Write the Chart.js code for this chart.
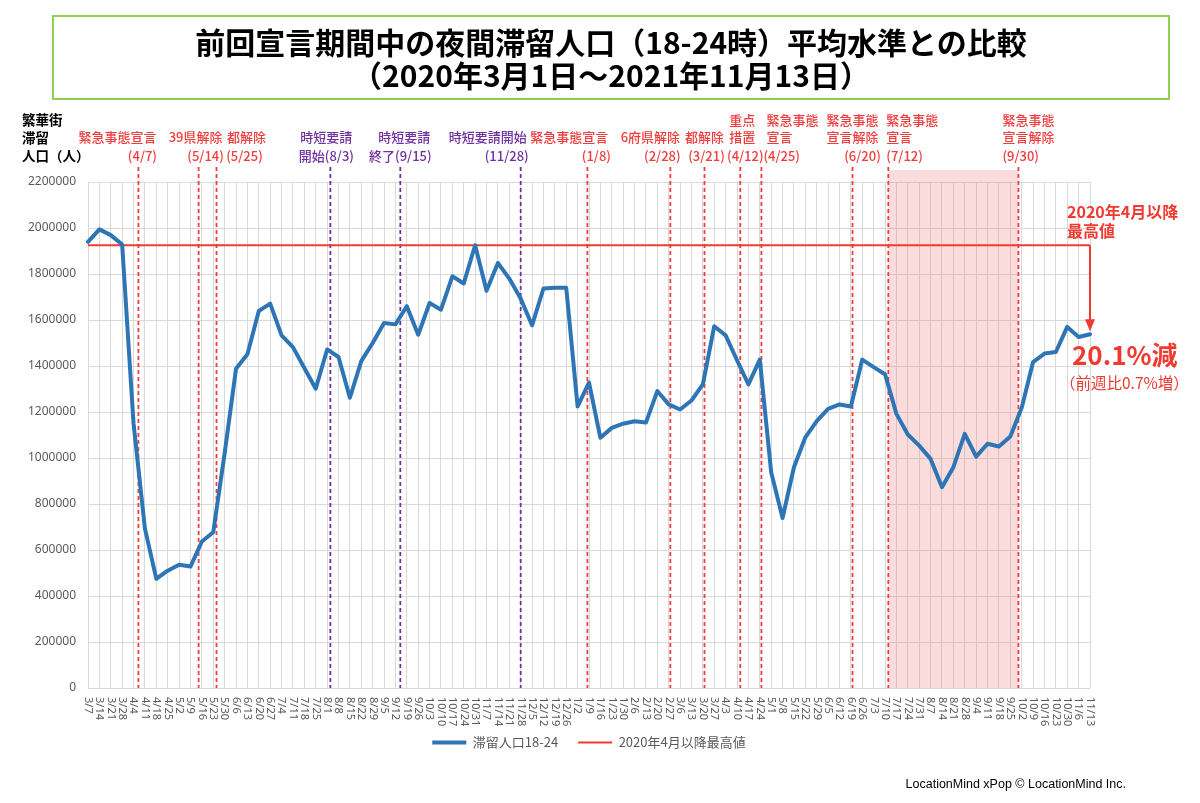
<!DOCTYPE html>
<html lang="ja">
<head>
<meta charset="utf-8">
<title>夜間滞留人口の比較</title>
<script src="https://cdn.jsdelivr.net/npm/chart.js@4.4.1/dist/chart.umd.min.js"></script>
<style>
  html, body { margin: 0; padding: 0; background: #fff; }
  #wrap { position: relative; width: 1200px; height: 803px; }
  canvas { position: absolute; left: 0; top: 0; }
  #title {
    position: absolute; left: 52px; top: 15px; width: 1114px; height: 81px;
    border: 2px solid #92d050;
    display: flex; flex-direction: column; justify-content: center; align-items: center;
    font-family: "Noto Sans CJK JP", sans-serif; font-weight: bold; font-size: 30px; line-height: 33px; color: #000;
  }
  #credit { position: absolute; right: 74px; top: 777px; font: 12.5px "Liberation Sans", Arial, sans-serif; color: #000; }
</style>
</head>
<body>
<div id="wrap">
  <canvas id="chart" width="1200" height="803"></canvas>
  <div id="title">
    <div>前回宣言期間中の夜間滞留人口（18-24時）平均水準との比較</div>
    <div>（2020年3月1日～2021年11月13日）</div>
  </div>
  <div id="credit">LocationMind xPop © LocationMind Inc.</div>
</div>
<script>
// weekly x labels, 2020/3/7 .. 2021/11/13
const weekLabels = [
  '3/7','3/14','3/21','3/28','4/4','4/11','4/18','4/25','5/2','5/9','5/16','5/23','5/30',
  '6/6','6/13','6/20','6/27','7/4','7/11','7/18','7/25','8/1','8/8','8/15','8/22','8/29',
  '9/5','9/12','9/19','9/26','10/3','10/10','10/17','10/24','10/31','11/7','11/14','11/21','11/28',
  '12/5','12/12','12/19','12/26','1/2','1/9','1/16','1/23','1/30','2/6','2/13','2/20','2/27',
  '3/6','3/13','3/20','3/27','4/3','4/10','4/17','4/24','5/1','5/8','5/15','5/22','5/29',
  '6/5','6/12','6/19','6/26','7/3','7/10','7/17','7/24','7/31','8/7','8/14','8/21','8/28',
  '9/4','9/11','9/18','9/25','10/2','10/9','10/16','10/23','10/30','11/6','11/13'
];

// night-time population 18-24 (people)
const stayValues = [
  1940000,1994000,1969000,1928000,1150000,693000,475000,510000,536000,528000,637000,677000,1020000,
  1388000,1451000,1639000,1671000,1533000,1482000,1391000,1301000,1472000,1439000,1262000,1421000,1500000,
  1587000,1581000,1660000,1536000,1674000,1645000,1790000,1759000,1925000,1727000,1848000,1780000,1693000,
  1577000,1737000,1740000,1740000,1224000,1328000,1088000,1131000,1149000,1160000,1154000,1291000,1233000,
  1211000,1250000,1320000,1573000,1533000,1425000,1320000,1428000,938000,739000,960000,1090000,1160000,
  1214000,1233000,1224000,1428000,1395000,1364000,1192000,1102000,1054000,996000,873000,960000,1105000,
  1006000,1062000,1050000,1093000,1218000,1417000,1454000,1461000,1570000,1526000,1538000
];

// highest value since April 2020
const peakSinceApril = 1925000;

// declarations and requests
const eventDates = ['2020-04-07','2020-05-14','2020-05-25','2020-08-03','2020-09-15','2020-11-28','2021-01-08',
  '2021-02-28','2021-03-21','2021-04-12','2021-04-25','2021-06-20','2021-07-12','2021-09-30'];
const eventNames = [['緊急事態宣言'],['39県解除'],['都解除'],['時短要請'],['時短要請'],['時短要請開始'],['緊急事態宣言'],
  ['6府県解除'],['都解除'],['重点','措置'],['緊急事態','宣言'],['緊急事態','宣言解除'],['緊急事態','宣言'],['緊急事態','宣言解除']];
const eventTags = ['(4/7)','(5/14)','(5/25)','開始(8/3)','終了(9/15)','(11/28)','(1/8)',
  '(2/28)','(3/21)','(4/12)','(4/25)','(6/20)','(7/12)','(9/30)'];
const eventKinds = ['red','red','red','purple','purple','purple','red','red','red','red','red','red','red','red'];

// shaded period (7/12 - 9/30)
const shadeFrom = '2021-07-12';
const shadeTo = '2021-09-30';

// label placement next to each line
const labelAlign = ['center','center','center','center','center','center','center','center','center','center','left','center','left','left'];
const labelDx = [-21, -3, 30, -4, 4, -33, -18, -20, 0, 2, 5, 0, -2, -16];
const tagDx = [4, 7, 28, -4, 0, -14, 9, -8, 2, 5, 2, 10, -2, -16];

const yCaption = ['繁華街', '滞留', '人口（人）'];

const RED = '#f03a30';
const PURPLE = '#7030a0';
const colors = { red: '#f23c3c', purple: PURPLE };

// fractional week position of a date on the category axis
const startDay = Date.UTC(2020, 2, 7);
function weekIndex(s) {
  const [y, m, d] = s.split('-').map(Number);
  return (Date.UTC(y, m - 1, d) - startDay) / (7 * 86400000);
}

const bandsAndLines = {
  id: 'bandsAndLines',
  beforeDatasetsDraw(chart) {
    const { ctx, chartArea: area, scales: { x } } = chart;
    ctx.save();
    // shaded period
    const x1 = x.getPixelForValue(weekIndex(shadeFrom));
    const x2 = x.getPixelForValue(weekIndex(shadeTo));
    ctx.fillStyle = 'rgba(240, 130, 130, 0.28)';
    ctx.fillRect(x1, area.top - 12, x2 - x1, area.bottom - area.top + 12);
    // dashed event lines
    ctx.lineWidth = 1.8;
    ctx.setLineDash([4, 3]);
    eventDates.forEach((d, i) => {
      const px = x.getPixelForValue(weekIndex(d));
      ctx.strokeStyle = colors[eventKinds[i]];
      ctx.beginPath();
      ctx.moveTo(px, area.top - 15);
      ctx.lineTo(px, area.bottom);
      ctx.stroke();
    });
    ctx.restore();
  },
  afterDatasetsDraw(chart) {
    const { ctx, chartArea: area, scales: { x, y } } = chart;
    ctx.save();

    // x tick labels, turned clockwise
    ctx.font = '11px "Noto Sans", sans-serif';
    ctx.fillStyle = '#595959';
    ctx.textAlign = 'left';
    ctx.textBaseline = 'middle';
    weekLabels.forEach((lab, i) => {
      ctx.save();
      ctx.translate(x.getPixelForValue(i), area.bottom + 9);
      ctx.rotate(Math.PI / 2);
      ctx.fillText(lab, 0, 0);
      ctx.restore();
    });

    // y axis caption
    ctx.font = 'bold 13.5px "Noto Sans CJK JP", sans-serif';
    ctx.fillStyle = '#000';
    yCaption.forEach((t, i) => ctx.fillText(t, 22, [120, 138, 156][i]));

    // event labels
    ctx.font = '500 13px "Noto Sans CJK JP", sans-serif';
    eventDates.forEach((d, i) => {
      const px = x.getPixelForValue(weekIndex(d));
      ctx.fillStyle = colors[eventKinds[i]];
      ctx.textAlign = labelAlign[i];
      const names = eventNames[i];
      names.forEach((t, k) => {
        const rowY = names.length === 2 ? [120, 137][k] : 137;
        ctx.fillText(t, px + labelDx[i], rowY);
      });
      ctx.fillText(eventTags[i], px + tagDx[i], 156);
    });

    // arrow from the peak line down to the latest week
    const last = stayValues.length - 1;
    const ax = x.getPixelForValue(last);
    const ay1 = y.getPixelForValue(peakSinceApril);
    const ay2 = y.getPixelForValue(stayValues[last]) - 3;
    ctx.strokeStyle = RED;
    ctx.fillStyle = RED;
    ctx.lineWidth = 2;
    ctx.beginPath();
    ctx.moveTo(ax, ay1);
    ctx.lineTo(ax, ay2 - 10);
    ctx.stroke();
    ctx.beginPath();
    ctx.moveTo(ax - 5, ay2 - 12);
    ctx.lineTo(ax + 5, ay2 - 12);
    ctx.lineTo(ax, ay2);
    ctx.closePath();
    ctx.fill();

    // right side notes
    ctx.textAlign = 'left';
    ctx.font = 'bold 16px "Noto Sans CJK JP", sans-serif';
    ctx.fillText('2020年4月以降', area.right - 23, 212);
    ctx.fillText('最高値', area.right - 23, 231);
    ctx.font = 'bold 26px "Noto Sans CJK JP", sans-serif';
    ctx.fillText('20.1%減', area.right - 18, 355);
    ctx.font = '15.5px "Noto Sans CJK JP", sans-serif';
    ctx.fillText('（前週比0.7%増）', area.right - 30, 383);

    ctx.restore();
  }
};

new Chart(document.getElementById('chart'), {
  type: 'line',
  data: {
    labels: weekLabels,
    datasets: [{
      label: '滞留人口18-24',
      data: stayValues,
      borderColor: '#2e75b6',
      backgroundColor: '#2e75b6',
      borderWidth: 4,
      borderJoinStyle: 'round',
      borderCapStyle: 'round',
      pointRadius: 0,
      pointStyle: 'line',
      tension: 0
    }, {
      label: '2020年4月以降最高値',
      data: [{ x: weekLabels[0], y: peakSinceApril }, { x: weekLabels[weekLabels.length - 1], y: peakSinceApril }],
      borderColor: RED,
      backgroundColor: RED,
      borderWidth: 2,
      pointRadius: 0,
      pointStyle: 'line'
    }]
  },
  options: {
    responsive: false,
    animation: false,
    layout: { padding: { top: 182, right: 110, bottom: 44, left: 0 } },
    scales: {
      x: {
        grid: { color: '#d9d9d9', drawTicks: false },
        border: { display: false },
        ticks: { display: false },
        afterFit(scale) { scale.height = 28; }
      },
      y: {
        min: 0,
        max: 2200000,
        grid: { color: '#d9d9d9', drawTicks: false },
        border: { display: false },
        ticks: {
          stepSize: 200000,
          padding: 12,
          color: '#595959',
          font: { family: '"Noto Sans", sans-serif', size: 12 },
          callback: v => String(v)
        },
        afterFit(scale) { scale.width = 88; }
      }
    },
    plugins: {
      legend: {
        position: 'bottom',
        fullSize: false,
        labels: {
          usePointStyle: true,
          pointStyleWidth: 34,
          padding: 20,
          color: '#595959',
          font: { family: '"Noto Sans CJK JP", sans-serif', size: 13 }
        }
      },
      tooltip: { enabled: false }
    }
  },
  plugins: [bandsAndLines]
});
</script>
</body>
</html>
